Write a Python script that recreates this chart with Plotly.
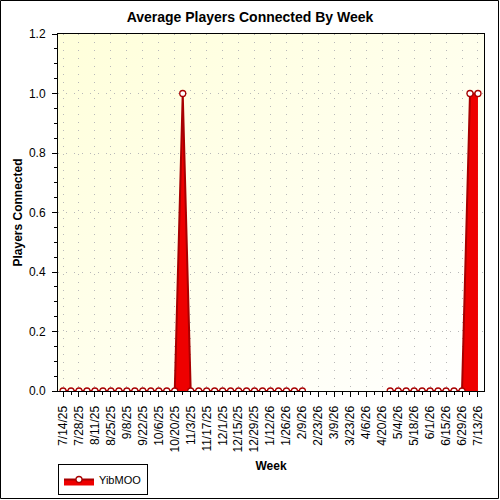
import base64
import plotly.graph_objects as go

# ---------------- data ----------------
weeks = [
    "2025-07-14", "2025-07-21", "2025-07-28", "2025-08-04", "2025-08-11", "2025-08-18",
    "2025-08-25", "2025-09-01", "2025-09-08", "2025-09-15", "2025-09-22", "2025-09-29",
    "2025-10-06", "2025-10-13", "2025-10-20", "2025-10-27", "2025-11-03", "2025-11-10",
    "2025-11-17", "2025-11-24", "2025-12-01", "2025-12-08", "2025-12-15", "2025-12-22",
    "2025-12-29", "2026-01-05", "2026-01-12", "2026-01-19", "2026-01-26", "2026-02-02",
    "2026-02-09", "2026-02-16", "2026-02-23", "2026-03-02", "2026-03-09", "2026-03-16",
    "2026-03-23", "2026-03-30", "2026-04-06", "2026-04-13", "2026-04-20", "2026-04-27",
    "2026-05-04", "2026-05-11", "2026-05-18", "2026-05-25", "2026-06-01", "2026-06-08",
    "2026-06-15", "2026-06-22", "2026-06-29", "2026-07-06", "2026-07-13",
]
players = [
    0, 0, 0, 0, 0, 0,
    0, 0, 0, 0, 0, 0,
    0, 0, 0, 1, 0, 0,
    0, 0, 0, 0, 0, 0,
    0, 0, 0, 0, 0, 0,
    0, None, None, None, None, None,
    None, None, None, None, None, 0,
    0, 0, 0, 0, 0, 0,
    0, 0, 0, 1, 1,
]
tick_dates = [
    "2025-07-14", "2025-07-28", "2025-08-11", "2025-08-25", "2025-09-08", "2025-09-22",
    "2025-10-06", "2025-10-20", "2025-11-03", "2025-11-17", "2025-12-01", "2025-12-15",
    "2025-12-29", "2026-01-12", "2026-01-26", "2026-02-09", "2026-02-23", "2026-03-09",
    "2026-03-23", "2026-04-06", "2026-04-20", "2026-05-04", "2026-05-18", "2026-06-01",
    "2026-06-15", "2026-06-29", "2026-07-13",
]
tick_labels = [
    "7/14/25", "7/28/25", "8/11/25", "8/25/25", "9/8/25", "9/22/25",
    "10/6/25", "10/20/25", "11/3/25", "11/17/25", "12/1/25", "12/15/25",
    "12/29/25", "1/12/26", "1/26/26", "2/9/26", "2/23/26", "3/9/26",
    "3/23/26", "4/6/26", "4/20/26", "5/4/26", "5/18/26", "6/1/26",
    "6/15/26", "6/29/26", "7/13/26",
]
series_name = "YibMOO"

# ---------------- styling ----------------
FONT = "Liberation Sans"
WEEK_MS = 7 * 24 * 3600 * 1000
x_range = ["2025-07-09 14:00", "2026-07-18 07:00"]
y_range = [0, 1.2]

svg = (
    '<svg xmlns="http://www.w3.org/2000/svg" width="100" height="100" preserveAspectRatio="none">'
    '<defs><linearGradient id="g" x1="0" y1="0" x2="1" y2="1">'
    '<stop offset="0" stop-color="#ffffda"/><stop offset="1" stop-color="#ffffff"/>'
    '</linearGradient></defs><rect width="100" height="100" fill="url(#g)"/></svg>'
)
bg_src = "data:image/svg+xml;base64," + base64.b64encode(svg.encode()).decode()

fig = go.Figure()
fig.add_trace(go.Scatter(
    x=weeks, y=players, name=series_name,
    mode="lines+markers",
    fill="tozeroy", fillcolor="#ee0000",
    line=dict(color="#a80000", width=2),
    marker=dict(symbol="circle", size=6, color="white",
                line=dict(color="#a80000", width=1.3)),
    connectgaps=False,
))

L, R, T, B = 58, 16, 34, 109
PW, PH = 500 - L - R, 500 - T - B
GRID = dict(showgrid=True, gridcolor="#b8b8b8", griddash="1px,7px", gridwidth=1)

fig.update_layout(
    width=500, height=500,
    margin=dict(l=L, r=R, t=T, b=B, pad=0, autoexpand=False),
    paper_bgcolor="white",
    plot_bgcolor="rgba(0,0,0,0)",
    font=dict(family=FONT, size=12, color="black"),
    title=dict(text="<b>Average Players Connected By Week</b>",
               x=0.5, xanchor="center", y=1 - 17 / 500, yanchor="middle",
               font=dict(family=FONT, size=14, color="black")),
    showlegend=True,
    legend=dict(x=0, xanchor="left", y=(T + PH - 495) / PH, yanchor="bottom",
                orientation="v", bgcolor="white", bordercolor="black",
                borderwidth=1, font=dict(family=FONT, size=11, color="black"),
                itemwidth=30, tracegroupgap=0),
    images=[dict(source=bg_src, xref="paper", yref="paper", x=0, y=1,
                 sizex=1, sizey=1, sizing="stretch", layer="below")],
    xaxis=dict(
        type="date", range=x_range, automargin=False,
        tickmode="array", tickvals=tick_dates, ticktext=tick_labels,
        tickangle=-90, ticks="outside", ticklen=5, tickcolor="black",
        ticklabelstandoff=4,
        tickfont=dict(family=FONT, size=12, color="black"),
        minor=dict(dtick=WEEK_MS, tick0="2025-07-14", ticks="outside",
                   ticklen=3, tickcolor="black", showgrid=False),
        showline=True, linecolor="black", linewidth=1, mirror=True,
        zeroline=False,
        title=dict(text="<b>Week</b>", standoff=10,
                   font=dict(family=FONT, size=12, color="black")),
        **GRID,
    ),
    yaxis=dict(
        range=y_range, dtick=0.2, tick0=0, tickformat=".1f", automargin=False,
        ticks="outside", ticklen=5, tickcolor="black",
        ticklabelstandoff=4,
        tickfont=dict(family=FONT, size=12, color="black"),
        minor=dict(dtick=0.05, ticks="outside", ticklen=3,
                   tickcolor="black", showgrid=False),
        showline=True, linecolor="black", linewidth=1, mirror=True,
        zeroline=False,
        title=dict(text="<b>Players Connected</b>", standoff=3,
                   font=dict(family=FONT, size=12, color="black")),
        **GRID,
    ),
    xaxis2=dict(
        type="date", range=x_range, overlaying="x", side="top", anchor="y",
        tickmode="array", tickvals=tick_dates, ticktext=[""] * len(tick_dates),
        showticklabels=False, ticks="inside", ticklen=4, tickcolor="black",
        minor=dict(dtick=WEEK_MS, tick0="2025-07-14", ticks="inside",
                   ticklen=4, tickcolor="black", showgrid=False),
        showline=False, showgrid=False, zeroline=False, automargin=False,
    ),
    yaxis2=dict(
        range=y_range, dtick=0.2, overlaying="y", side="right", anchor="x",
        showticklabels=False, ticks="inside", ticklen=4, tickcolor="black",
        minor=dict(dtick=0.05, ticks="inside", ticklen=4,
                   tickcolor="black", showgrid=False),
        showline=False, showgrid=False, zeroline=False, automargin=False,
    ),
    shapes=[dict(type="rect", xref="paper", yref="paper",
                 x0=(0.5 - L) / PW, x1=(498.5 - L) / PW,
                 y0=(500 - 498.5 - B) / PH, y1=(500 - 0.5 - B) / PH,
                 line=dict(color="black", width=1), fillcolor="rgba(0,0,0,0)",
                 layer="above")],
)

fig.write_html("out.html")
